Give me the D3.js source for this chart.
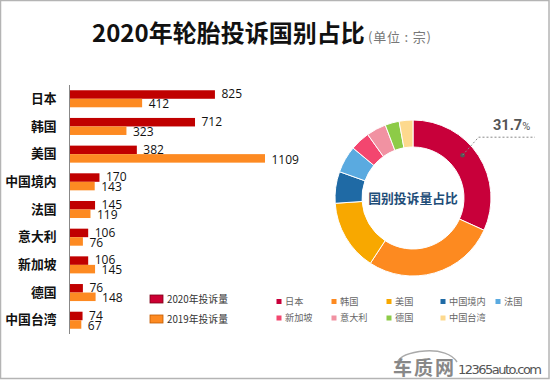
<!DOCTYPE html>
<html><head><meta charset="utf-8">
<script src="https://cdn.jsdelivr.net/npm/d3@7/dist/d3.min.js"></script>
<style>
html,body{margin:0;padding:0;background:#fff;}
svg{display:block;font-family:"Noto Sans CJK SC","Noto Sans",sans-serif;}
</style></head>
<body>
<svg id="c" width="550" height="380"></svg>
<script>
const categories = ['日本','韩国','美国','中国境内','法国','意大利','新加坡','德国','中国台湾'];
const values2020 = [825,712,382,170,145,106,106,76,74];
const values2019 = [412,323,1109,143,119,76,145,148,67];
const seriesNames = ['2020年投诉量','2019年投诉量'];
const donutCats = ['日本','韩国','美国','中国境内','法国','新加坡','意大利','德国','中国台湾'];
const donutValues = [825,712,382,170,145,106,106,76,74];
const donutColors = ['#c8003a','#fd8a20','#f8a800','#1f6aa5','#5aaae0','#f3466f','#f192a2','#8dcb47','#fdd98e'];
const highlightLabel = '31.7';
const titleText = '2020年轮胎投诉国别占比';
const unitText = '(单位 : 宗)';
const centerText = '国别投诉量占比';

const svg = d3.select('#c');
// border
svg.append('rect').attr('x',0.5).attr('y',0.5).attr('width',548.5).attr('height',378)
  .attr('fill','#fff').attr('stroke','#b4b4b4').attr('stroke-width',1.5);

// title
svg.append('text').attr('x',92).attr('y',42).attr('font-size',24).attr('font-weight','bold').attr('fill','#111').text(titleText);
svg.append('text').attr('x',368).attr('y',42).attr('font-size',13).attr('fill','#777')
  .attr('textLength',63).text(unitText);

// bar chart
const x = d3.scaleLinear().domain([0,1109]).range([69.5,265]);
const y = d3.scaleBand().domain(categories).range([85,334]).paddingInner(0.385).paddingOuter(0.19);
const ySub = d3.scaleBand().domain([0,1]).range([0,y.bandwidth()]);
const barColors = ['#c00000','#fd8a22'];
const series = [values2020, values2019];

const g = svg.append('g');
series.forEach((vals,si)=>{
  g.selectAll('.b'+si).data(categories).enter().append('rect')
    .attr('x',x(0)).attr('y',d=>y(d)+ySub(si))
    .attr('width',(d,i)=>x(vals[i])-x(0)).attr('height',ySub.bandwidth())
    .attr('fill',barColors[si]);
  g.selectAll('.l'+si).data(categories).enter().append('text')
    .attr('x',(d,i)=>x(vals[i])+6.5).attr('y',d=>y(d)+ySub(si)+ySub.bandwidth()/2 + (si===0?-0.5:0.8))
    .attr('dy','0.36em').attr('font-size',12).attr('fill','#111')
    .attr('font-family','"Open Sans","DejaVu Sans",sans-serif')
    .text((d,i)=>vals[i]);
});
// axis
const yAxis = d3.axisLeft(y).tickSize(0).tickPadding(13);
const ax = svg.append('g').attr('transform',`translate(${x(0)},0)`).call(yAxis);
ax.select('.domain').attr('stroke','#888').attr('stroke-width',1).attr('d','M0,85V334');
ax.selectAll('text').attr('font-size',12.8).attr('font-weight','bold').attr('fill','#111')
  .attr('font-family','"Noto Sans CJK SC",sans-serif');

// left legend
const legY = [299, 319];
const legStroke = ['#7a0018','#c05a00'];
const legFill = ['#cc0033','#fd8a22'];
seriesNames.forEach((n,i)=>{
  svg.append('rect').attr('x',150).attr('y',legY[i]-4).attr('width',13).attr('height',8)
    .attr('fill',legFill[i]).attr('stroke',legStroke[i]).attr('stroke-width',0.8);
  svg.append('text').attr('x',167).attr('y',legY[i]).attr('dy','0.36em').attr('font-size',9.8)
    .attr('fill','#333').text(n);
});

// donut
const cx = 413, cy = 198, rOut = 78, rIn = 51;
const pie = d3.pie().sort(null).value(d=>d);
const arcs = pie(donutValues);
const arc = d3.arc().innerRadius(rIn).outerRadius(rOut);
const dg = svg.append('g').attr('transform',`translate(${cx},${cy})`);
dg.selectAll('path').data(arcs).enter().append('path').attr('d',arc)
  .attr('fill',(d,i)=>donutColors[i]).attr('stroke','#fff').attr('stroke-width',1);
dg.append('text').attr('x',0).attr('y',0).attr('dy','0.36em').attr('text-anchor','middle')
  .attr('font-size',12.8).attr('font-weight','bold').attr('fill','#1f4e79').text(centerText);

// annotation
const a0 = arcs[0];
const ang = a0.startAngle + (a0.endAngle - a0.startAngle)*0.43;
const rm = (rIn+rOut)/2+1;
const px = cx + rm*Math.sin(ang), py = cy - rm*Math.cos(ang);
svg.append('circle').attr('cx',px).attr('cy',py).attr('r',2.3).attr('fill','#555');
svg.append('path').attr('d',`M${px},${py}L${px+16},${py-18}L535,${py-18}`)
  .attr('fill','none').attr('stroke','#888').attr('stroke-width',1).attr('stroke-dasharray','2,2');
const at = svg.append('text').attr('x',493).attr('y',130).attr('fill','#555').attr('font-weight','bold')
  .attr('font-family','Roboto,"Noto Sans",sans-serif');
at.append('tspan').attr('font-size',14.5).text(highlightLabel);
at.append('tspan').attr('font-size',11).attr('font-weight','normal').text('%');

// donut legend
const legCols = [279,334,389,443,498];
donutCats.forEach((c,i)=>{
  const col = i<5 ? i : i-5;
  const row = i<5 ? 0 : 1;
  const lx = legCols[col], ly = 301.5 + row*16.5;
  svg.append('rect').attr('x',lx-2.5).attr('y',ly-2.5).attr('width',5).attr('height',5).attr('fill',donutColors[i]);
  svg.append('text').attr('x',lx+6).attr('y',ly).attr('dy','0.36em').attr('font-size',9.2).attr('fill','#666').text(c);
});

// watermark
const wm = svg.append('g');
wm.append('path').attr('d','M397,363 C400,355 412,352 425,351 C440,350 452,354 457,362')
  .attr('fill','none').attr('stroke','#aaa').attr('stroke-width',1.5);
wm.append('text').attr('x',393).attr('y',375).attr('font-size',19).attr('font-weight','bold')
  .attr('fill','#888').attr('textLength',61).text('车质网');
wm.append('text').attr('x',458).attr('y',374).attr('font-size',13).attr('fill','#555')
  .attr('font-family','"DejaVu Sans",sans-serif').attr('textLength',84).text('12365auto.com');
</script>
</body></html>
